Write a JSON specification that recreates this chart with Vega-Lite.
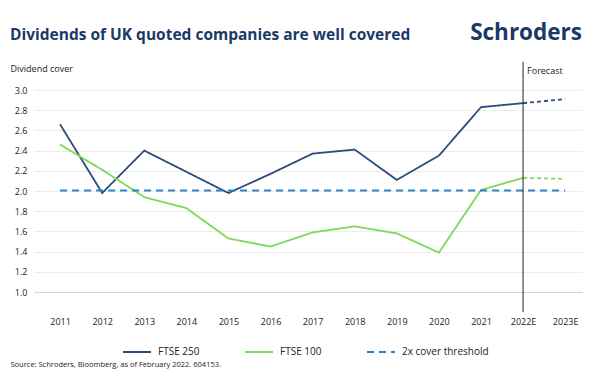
{
  "$schema": "https://vega.github.io/schema/vega-lite/v6.json",
  "autosize": {"type": "none"},
  "width": 548,
  "height": 202,
  "padding": {"left": 34, "top": 90, "right": 18, "bottom": 87},
  "background": "white",
  "config": {
    "font": "Open Sans",
    "view": {"stroke": null},
    "axis": {"labelOverlap": false},
    "axisY": {"labelOverlap": false, "tickCount": 11}
  },
  "datasets": {
    "main": [
      {"year": 2011, "value": 2.66, "series": "FTSE 250", "segment": "actual"},
      {"year": 2012, "value": 1.98, "series": "FTSE 250", "segment": "actual"},
      {"year": 2013, "value": 2.40, "series": "FTSE 250", "segment": "actual"},
      {"year": 2014, "value": 2.19, "series": "FTSE 250", "segment": "actual"},
      {"year": 2015, "value": 1.98, "series": "FTSE 250", "segment": "actual"},
      {"year": 2016, "value": 2.17, "series": "FTSE 250", "segment": "actual"},
      {"year": 2017, "value": 2.37, "series": "FTSE 250", "segment": "actual"},
      {"year": 2018, "value": 2.41, "series": "FTSE 250", "segment": "actual"},
      {"year": 2019, "value": 2.11, "series": "FTSE 250", "segment": "actual"},
      {"year": 2020, "value": 2.35, "series": "FTSE 250", "segment": "actual"},
      {"year": 2021, "value": 2.83, "series": "FTSE 250", "segment": "actual"},
      {"year": 2022, "value": 2.87, "series": "FTSE 250", "segment": "actual"},
      {"year": 2022, "value": 2.87, "series": "FTSE 250", "segment": "forecast"},
      {"year": 2023, "value": 2.91, "series": "FTSE 250", "segment": "forecast"},
      {"year": 2011, "value": 2.46, "series": "FTSE 100", "segment": "actual"},
      {"year": 2012, "value": 2.21, "series": "FTSE 100", "segment": "actual"},
      {"year": 2013, "value": 1.94, "series": "FTSE 100", "segment": "actual"},
      {"year": 2014, "value": 1.83, "series": "FTSE 100", "segment": "actual"},
      {"year": 2015, "value": 1.53, "series": "FTSE 100", "segment": "actual"},
      {"year": 2016, "value": 1.45, "series": "FTSE 100", "segment": "actual"},
      {"year": 2017, "value": 1.59, "series": "FTSE 100", "segment": "actual"},
      {"year": 2018, "value": 1.65, "series": "FTSE 100", "segment": "actual"},
      {"year": 2019, "value": 1.58, "series": "FTSE 100", "segment": "actual"},
      {"year": 2020, "value": 1.39, "series": "FTSE 100", "segment": "actual"},
      {"year": 2021, "value": 2.01, "series": "FTSE 100", "segment": "actual"},
      {"year": 2022, "value": 2.13, "series": "FTSE 100", "segment": "actual"},
      {"year": 2022, "value": 2.13, "series": "FTSE 100", "segment": "forecast"},
      {"year": 2023, "value": 2.12, "series": "FTSE 100", "segment": "forecast"},
      {"year": 2011, "value": 2.005, "series": "2x cover threshold", "segment": "actual"},
      {"year": 2023, "value": 2.005, "series": "2x cover threshold", "segment": "actual"}
    ]
  },
  "layer": [
    {
      "data": {"name": "main"},
      "transform": [{"filter": "datum.segment === 'actual'"}],
      "mark": {"type": "line", "strokeWidth": 1.8},
      "encoding": {
        "x": {
          "field": "year",
          "type": "quantitative",
          "scale": {"domain": [2010.38, 2023.4], "nice": false, "zero": false},
          "axis": {
            "values": [2011, 2012, 2013, 2014, 2015, 2016, 2017, 2018, 2019, 2020, 2021, 2022, 2023],
            "labelExpr": "datum.value >= 2022 ? datum.value + 'E' : '' + datum.value",
            "labelOverlap": false,
            "grid": false,
            "ticks": false,
            "domain": true,
            "domainColor": "#d4d4d4",
            "labelPadding": 25,
            "labelDx": -4,
            "labelFontSize": 9,
            "labelColor": "#222222",
            "labelFont": "Open Sans",
            "title": "Source: Schroders, Bloomberg, as of February 2022. 604153.",
            "titleFontSize": 7.5,
            "titleFontWeight": "normal",
            "titleColor": "#222222",
            "titleAnchor": "start",
            "titleAlign": "left",
            "titleX": -24,
            "titleY": 72,
            "titleBaseline": "middle"
          }
        },
        "y": {
          "field": "value",
          "type": "quantitative",
          "scale": {"domain": [1.0, 3.0], "nice": false, "zero": false},
          "axis": {
            "values": [1.0, 1.2, 1.4, 1.6, 1.8, 2.0, 2.2, 2.4, 2.6, 2.8, 3.0],
            "format": ".1f",
            "labelOverlap": false,
            "grid": true,
            "gridColor": "#ececec",
            "gridWidth": 1,
            "ticks": false,
            "domain": false,
            "labelPadding": 7,
            "labelFontSize": 9,
            "labelColor": "#222222",
            "title": "Dividend cover",
            "titleAngle": 0,
            "titleAlign": "left",
            "titleAnchor": "start",
            "titleBaseline": "middle",
            "titleX": -24,
            "titleY": -22,
            "titleFontSize": 9,
            "titleFontWeight": "normal",
            "titleColor": "#222222"
          }
        },
        "color": {
          "field": "series",
          "type": "nominal",
          "scale": {
            "domain": ["FTSE 250", "FTSE 100", "2x cover threshold"],
            "range": ["#2c4a7c", "#7ed957", "#2b82c9"]
          },
          "legend": {
            "title": null,
            "orient": "none",
            "direction": "horizontal",
            "legendX": 88,
            "legendY": 247,
            "symbolType": "stroke",
            "symbolSize": 784,
            "symbolStrokeWidth": 2,
            "labelFontSize": 10,
            "labelColor": "#222222",
            "labelOffset": 6,
            "columnPadding": 41,
            "padding": 0
          }
        },
        "strokeDash": {
          "field": "series",
          "type": "nominal",
          "scale": {
            "domain": ["FTSE 250", "FTSE 100", "2x cover threshold"],
            "range": [[1, 0], [1, 0], [7, 5]]
          },
          "legend": {
            "title": null,
            "orient": "none",
            "direction": "horizontal",
            "legendX": 88,
            "legendY": 247,
            "symbolType": "stroke",
            "symbolSize": 784,
            "symbolStrokeWidth": 2,
            "labelFontSize": 10,
            "labelColor": "#222222",
            "labelOffset": 6,
            "columnPadding": 41,
            "padding": 0
          }
        }
      }
    },
    {
      "data": {"name": "main"},
      "transform": [{"filter": "datum.segment === 'forecast'"}],
      "mark": {"type": "line", "strokeWidth": 1.8, "strokeDash": [4, 3]},
      "encoding": {
        "x": {"field": "year", "type": "quantitative"},
        "y": {"field": "value", "type": "quantitative"},
        "color": {"field": "series", "type": "nominal"},
        "detail": {"field": "series"}
      }
    },
    {
      "data": {"values": [{"label": "Forecast"}]},
      "mark": {"type": "rule", "color": "#222222", "strokeWidth": 1},
      "encoding": {
        "x": {"datum": 2022, "type": "quantitative"},
        "y": {"datum": 3.28, "type": "quantitative"},
        "y2": {"datum": 0.8}
      }
    },
    {
      "data": {"values": [{"label": "Forecast"}]},
      "mark": {"type": "text", "align": "left", "baseline": "middle", "dx": 4, "fontSize": 9, "color": "#222222"},
      "encoding": {
        "x": {"datum": 2022, "type": "quantitative"},
        "y": {"datum": 3.19, "type": "quantitative"},
        "text": {"field": "label"}
      }
    },
    {
      "data": {"values": [{"label": "Dividends of UK quoted companies are well covered"}]},
      "mark": {"type": "text", "align": "left", "baseline": "middle", "dx": -24, "fontSize": 15.5, "fontWeight": "bold", "color": "#1b3968", "font": "Open Sans"},
      "encoding": {
        "x": {"datum": 2010.38, "type": "quantitative"},
        "y": {"datum": 3.54, "type": "quantitative"},
        "text": {"field": "label"}
      }
    },
    {
      "data": {"values": [{"label": "Schroders"}]},
      "mark": {"type": "text", "align": "right", "baseline": "middle", "fontSize": 22.5, "fontWeight": "bold", "color": "#1b3968", "font": "Open Sans", "letterSpacing": -0.8},
      "encoding": {
        "x": {"datum": 2023.4, "type": "quantitative"},
        "y": {"datum": 3.56, "type": "quantitative"},
        "text": {"field": "label"}
      }
    }
  ]
}
